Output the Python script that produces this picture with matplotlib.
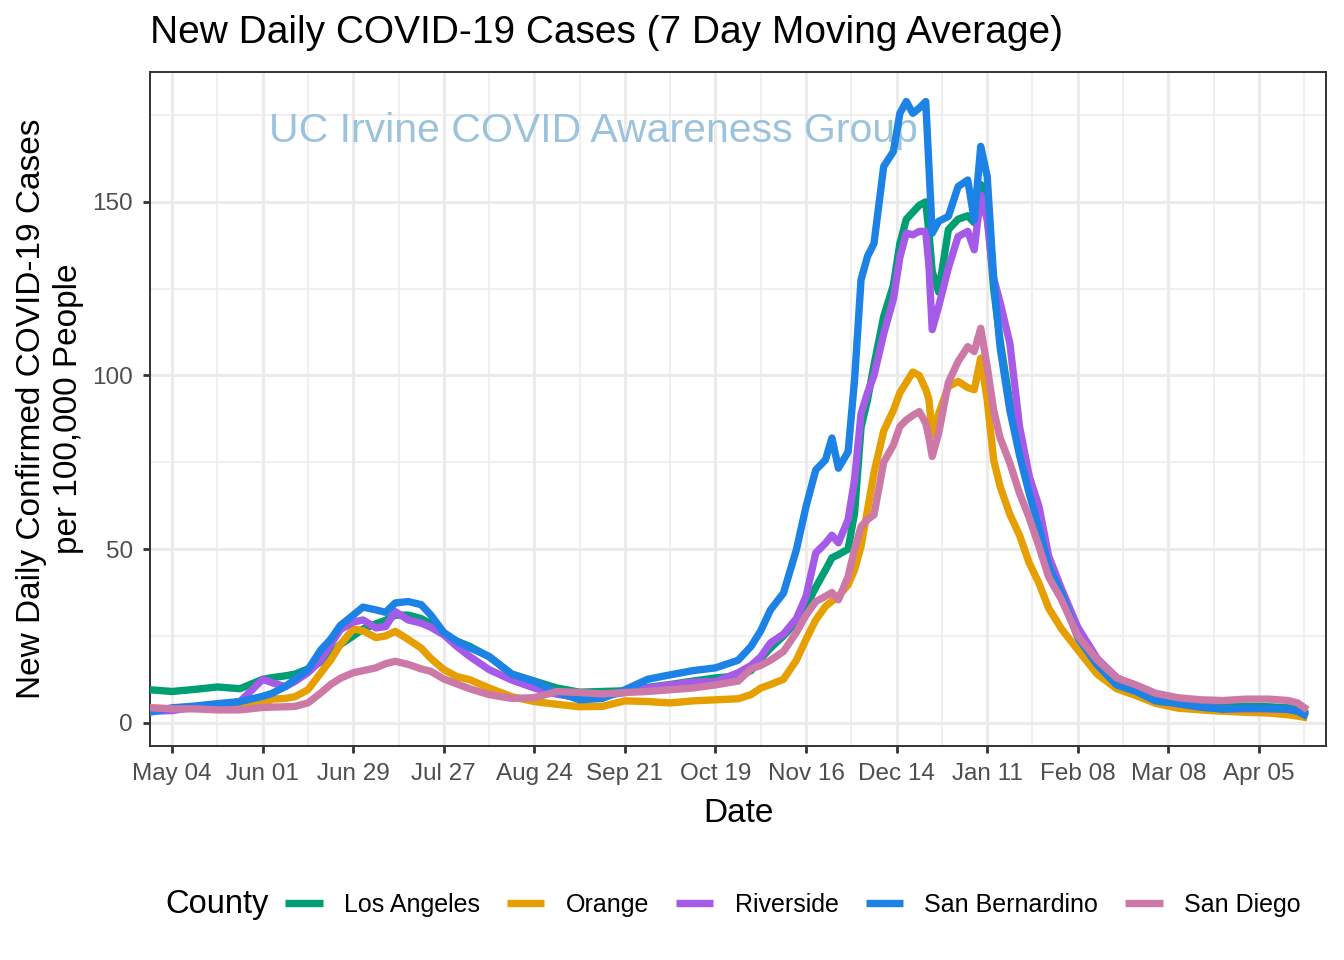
import matplotlib
matplotlib.use("Agg")
import matplotlib.pyplot as plt
import matplotlib.dates as mdates
import numpy as np
import pandas as pd
from matplotlib.lines import Line2D

# dates the values were read at (denser around the winter peak)
dates = pd.to_datetime([
    "2020-04-27", "2020-05-04", "2020-05-11", "2020-05-18", "2020-05-25",
    "2020-06-01", "2020-06-04", "2020-06-08", "2020-06-11", "2020-06-15",
    "2020-06-19", "2020-06-22", "2020-06-25", "2020-06-29", "2020-07-02",
    "2020-07-06", "2020-07-09", "2020-07-12", "2020-07-16", "2020-07-20",
    "2020-07-23", "2020-07-27", "2020-07-31", "2020-08-04", "2020-08-10",
    "2020-08-17", "2020-08-24", "2020-08-31", "2020-09-07", "2020-09-14",
    "2020-09-21", "2020-09-28", "2020-10-05", "2020-10-12", "2020-10-19",
    "2020-10-26", "2020-10-30", "2020-11-02", "2020-11-05", "2020-11-09",
    "2020-11-13", "2020-11-16", "2020-11-19", "2020-11-22", "2020-11-24",
    "2020-11-26", "2020-11-29", "2020-12-01", "2020-12-03", "2020-12-05",
    "2020-12-07", "2020-12-10", "2020-12-13", "2020-12-15", "2020-12-17",
    "2020-12-19", "2020-12-21", "2020-12-23", "2020-12-24", "2020-12-25",
    "2020-12-27", "2020-12-30", "2021-01-02", "2021-01-05", "2021-01-07",
    "2021-01-09", "2021-01-11", "2021-01-13", "2021-01-15", "2021-01-18",
    "2021-01-21", "2021-01-24", "2021-01-27", "2021-01-30", "2021-02-03",
    "2021-02-08", "2021-02-14", "2021-02-20", "2021-02-26", "2021-03-04",
    "2021-03-11", "2021-03-18", "2021-03-25", "2021-04-01", "2021-04-08",
    "2021-04-14", "2021-04-17", "2021-04-20",
])

los_angeles = [
    9.5, 9.0, 9.6, 10.3, 9.8, 12.5, 13.0, 13.5, 14.0, 15.5,
    17.5, 19.5, 22.5, 25.0, 27.0, 28.5, 29.5, 31.0, 31.0, 30.0,
    28.5, 25.5, 23.5, 22.0, 19.0, 14.0, 12.0, 10.0, 8.8, 9.0,
    9.2, 10.2, 11.0, 12.0, 12.9, 13.5, 15.0, 18.5, 21.5, 25.0,
    29.0, 33.5, 39.0, 44.0, 47.5, 48.4, 50.0, 60.4, 85.0, 93.0,
    103.0, 117.0, 126.0, 138.0, 145.0, 147.0, 149.0, 150.0, 141.0, 130.0,
    124.0, 142.0, 145.0, 146.0, 144.0, 155.0, 147.0, 125.0, 110.0, 92.0,
    80.0, 68.0, 58.0, 46.0, 38.0, 27.0, 18.0, 13.0, 10.0, 7.5,
    6.0, 5.0, 4.7, 4.7, 4.6, 4.3, 3.8, 2.5,
]

orange = [
    4.3, 4.0, 4.2, 4.0, 4.3, 5.5, 6.8, 7.0, 7.5, 9.5,
    14.4, 18.0, 22.5, 27.0, 26.5, 24.5, 25.0, 26.3, 24.0, 21.5,
    18.5, 15.3, 13.3, 12.4, 10.0, 7.5, 6.1, 5.3, 4.6, 4.7,
    6.3, 6.1, 5.7, 6.3, 6.6, 6.9, 8.1, 10.0, 11.0, 12.5,
    18.0, 24.0, 29.6, 33.5, 35.0, 36.4, 39.7, 44.0, 50.8, 61.3,
    72.0, 84.0, 90.0, 95.0, 98.0, 101.0, 100.0, 96.0, 93.0, 83.0,
    89.0, 96.8, 98.3, 96.5, 95.9, 105.0, 93.0, 75.7, 68.0, 60.0,
    54.0, 46.0, 40.2, 33.0, 27.0, 21.0, 14.0, 9.8, 7.8, 5.6,
    4.2, 3.7, 3.3, 3.0, 2.8, 2.3, 1.9, 1.4,
]

riverside = [
    3.3, 3.5, 4.5, 5.0, 6.1, 12.5, 11.5, 10.4, 11.9, 14.4,
    18.0, 22.5, 26.8, 29.0, 29.6, 27.3, 27.7, 32.0, 29.6, 28.7,
    27.5, 25.3, 22.0, 19.1, 15.3, 12.3, 10.0, 8.2, 7.2, 7.8,
    8.7, 10.0, 10.9, 11.7, 11.8, 14.4, 16.5, 19.0, 23.0, 25.5,
    30.0, 36.4, 48.9, 51.7, 54.0, 51.8, 58.5, 70.0, 89.0, 95.0,
    100.0, 112.0, 122.0, 134.0, 141.0, 140.5, 141.5, 141.5, 131.4, 113.2,
    119.9, 131.0, 140.0, 141.5, 136.2, 152.0, 144.8, 128.0, 121.0, 109.3,
    85.3, 71.0, 62.3, 48.0, 38.5, 27.5, 18.5, 13.0, 10.0, 7.0,
    5.5, 4.5, 4.0, 4.0, 4.0, 3.8, 3.3, 2.0,
]

san_bernardino = [
    3.0, 4.3, 4.8, 5.5, 6.1, 7.6, 8.5, 10.4, 12.5, 15.3,
    21.0, 24.0, 28.0, 31.0, 33.3, 32.5, 31.8, 34.5, 34.9, 34.0,
    31.0, 26.0, 23.5, 21.6, 19.1, 14.0, 11.9, 8.8, 6.6, 7.0,
    9.5, 12.5, 13.8, 15.0, 15.8, 18.0, 22.0, 26.5, 32.5, 37.3,
    49.8, 62.3, 72.8, 75.7, 82.0, 73.3, 78.0, 98.8, 127.6, 134.3,
    138.0, 160.2, 164.5, 175.5, 178.9, 175.5, 177.0, 178.9, 160.0, 141.0,
    144.4, 145.8, 154.4, 156.3, 144.8, 166.0, 157.3, 128.0, 108.0, 90.0,
    77.0, 66.0, 56.0, 45.0, 37.3, 24.5, 16.7, 10.9, 9.0, 6.3,
    5.5, 4.5, 3.9, 4.2, 4.1, 3.9, 3.3, 1.8,
]

san_diego = [
    4.3, 4.0, 4.0, 3.7, 3.7, 4.4, 4.5, 4.6, 4.7, 5.7,
    8.6, 11.0, 12.8, 14.4, 15.0, 15.8, 17.0, 17.7, 16.8, 15.5,
    14.8, 12.6, 11.2, 9.8, 8.1, 7.0, 7.2, 9.0, 8.7, 8.3,
    8.7, 9.0, 9.5, 10.0, 10.9, 12.0, 15.5, 16.5, 18.0, 20.5,
    26.0, 31.0, 34.9, 36.4, 37.5, 35.4, 42.1, 50.0, 56.5, 58.5,
    59.9, 75.0, 80.0, 85.3, 87.2, 88.5, 89.6, 86.3, 82.0, 76.7,
    83.4, 98.0, 104.0, 108.3, 106.9, 113.6, 102.6, 90.0, 82.0, 74.8,
    66.1, 59.0, 50.8, 42.0, 35.4, 25.0, 18.1, 12.9, 10.9, 8.5,
    7.2, 6.6, 6.4, 6.8, 6.8, 6.4, 5.7, 3.7,
]

counties = ["Los Angeles", "Orange", "Riverside", "San Bernardino", "San Diego"]
series = [los_angeles, orange, riverside, san_bernardino, san_diego]
colors = ["#009E73", "#E69F00", "#A65AE8", "#1C82E6", "#CC79A7"]

plt.rcParams["font.family"] = ["Liberation Sans", "DejaVu Sans"]

fig = plt.figure(figsize=(13.44, 9.6), dpi=100)
ax = fig.add_axes([150 / 1344, 1 - 746 / 960, 1176 / 1344, 674 / 960])

# watermark sits under the lines
ax.text(pd.Timestamp("2020-06-03"), 170.5, "UC Irvine COVID Awareness Group",
        color="#9CC3DC", fontsize=29.5, va="center", ha="left", zorder=1)

for vals, col, name in zip(series, colors, counties):
    ax.plot(dates, vals, color=col, lw=5.3, solid_capstyle="butt",
            solid_joinstyle="round", label=name, zorder=3)

# ticks every 4 weeks, minor grid halfway between
major = pd.date_range("2020-05-04", "2021-04-05", freq="28D")
minor = [d + pd.Timedelta(days=14) for d in major] + [major[0] - pd.Timedelta(days=14)]
ax.set_xticks(major)
ax.set_xticks(minor, minor=True)
ax.xaxis.set_major_formatter(mdates.DateFormatter("%b %d"))
ax.set_yticks([0, 50, 100, 150])
ax.set_yticks([25, 75, 125, 175], minor=True)

# limits set after the ticks so they are not widened
ax.set_xlim(pd.Timestamp("2020-04-27 04:00"), pd.Timestamp("2021-04-25 18:00"))
ax.set_ylim(-6.7, 187.4)

ax.grid(which="major", color="#EBEBEB", lw=2.2, zorder=0)
ax.grid(which="minor", color="#EBEBEB", lw=1.1, zorder=0)
ax.set_axisbelow(True)
for sp in ax.spines.values():
    sp.set_color("#333333")
    sp.set_linewidth(1.4)
ax.tick_params(which="major", length=5, width=2, color="#333333",
               labelsize=17.5, labelcolor="#4D4D4D", pad=7.5)
ax.tick_params(which="minor", length=0)

ax.set_xlabel("Date", fontsize=24, labelpad=9)
ax.set_ylabel("New Daily Confirmed COVID-19 Cases\nper 100,000 People",
              fontsize=24, labelpad=5.5, linespacing=1.25)
fig.text(150 / 1344, 1 - 33 / 960, "New Daily COVID-19 Cases (7 Day Moving Average)",
         fontsize=28, ha="left", va="center")

# legend at bottom with the title on the left
handles = [Line2D([], [], color=c, lw=5.3, solid_capstyle="butt") for c in colors]
fig.text(165 / 1344, 1 - 905 / 960, "County", fontsize=23.5, ha="left", va="center")
fig.legend(handles, counties, loc="center left", bbox_to_anchor=(285 / 1344, 1 - 905 / 960),
           ncol=5, frameon=False, fontsize=18, handlelength=1.5, handletextpad=0.85,
           columnspacing=1.08, borderaxespad=0, borderpad=0)

fig.savefig("out.png", dpi=100)
